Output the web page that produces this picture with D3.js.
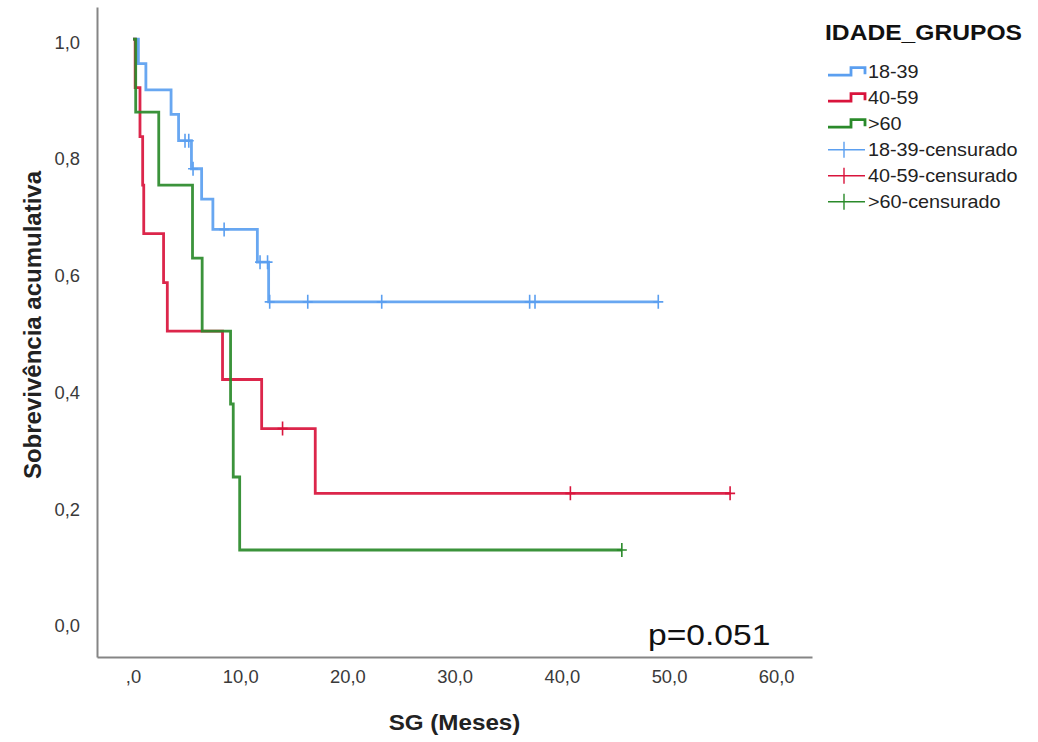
<!DOCTYPE html>
<html>
<head>
<meta charset="utf-8">
<script src="https://cdn.jsdelivr.net/npm/d3@7"></script>
<style>
  body { margin: 0; background: #fff; }
  svg { display: block; font-family: "Liberation Sans", Arial, sans-serif; }
</style>
</head>
<body>
<svg width="1038" height="742"></svg>
<script>
// step data (time in months, cumulative survival)
const groups = ["18-39", "40-59", ">60"];
const colors = ["#5b9ff0", "#d9143c", "#2a8a2a"];

const blueT = [0, 0.5, 1.2, 3.55, 4.25, 5.45, 6.4, 7.45, 11.6, 12.65];
const blueS = [1, 0.958, 0.913, 0.871, 0.826, 0.778, 0.726, 0.674, 0.618, 0.55];
const blueCens = [4.85, 5.2, 5.6, 8.5, 11.85, 12.55, 12.75, 16.3, 23.2, 37.0, 37.5, 49.0];

const redT = [0, 0.2, 0.65, 0.9, 1.0, 2.85, 3.2, 8.35, 12.0, 17.0];
const redS = [1, 0.917, 0.833, 0.75, 0.667, 0.583, 0.5, 0.417, 0.333, 0.222];
const redCens = [13.95, 40.8, 55.7];

const greenT = [0, 0.25, 2.4, 5.55, 6.45, 9.1, 9.35, 9.95];
const greenS = [1, 0.875, 0.75, 0.625, 0.5, 0.375, 0.25, 0.125];
const greenCens = [45.6];

const xTicks = [0, 10, 20, 30, 40, 50, 60];
const yTicks = [0, 0.2, 0.4, 0.6, 0.8, 1.0];
const pText = "p=0.051";

const series = [
  { name: groups[0], t: blueT, s: blueS, cens: blueCens, color: colors[0] },
  { name: groups[1], t: redT, s: redS, cens: redCens, color: colors[1] },
  { name: groups[2], t: greenT, s: greenS, cens: greenCens, color: colors[2] }
];

const svg = d3.select("svg");
const plotLeft = 97, plotRight = 812, plotTop = 7, plotBottom = 657;

const x = d3.scaleLinear().domain([-3.36, 63.34]).range([plotLeft, plotRight]);
const y = d3.scaleLinear().domain([-0.0583, 1.055]).range([plotBottom, plotTop]);

const comma = v => v === 0 ? ",0" : d3.format(".1f")(v).replace(".", ",");

// axes
const xAxis = svg.append("g")
  .attr("transform", `translate(0,${plotBottom})`)
  .call(d3.axisBottom(x).tickValues(xTicks).tickFormat(comma).tickSize(0).tickSizeOuter(0));
xAxis.selectAll("text")
  .attr("y", 0).attr("dy", null)
  .attr("transform", "translate(0,26) scale(1.05,1)")
  .style("font-size", "17.5px").style("fill", "#3a3a3a");

const yAxis = svg.append("g")
  .attr("transform", `translate(${plotLeft},0)`)
  .call(d3.axisLeft(y).tickValues(yTicks).tickFormat(v => d3.format(".1f")(v).replace(".", ",")).tickSize(0).tickSizeOuter(0));
yAxis.selectAll("text")
  .attr("x", 0).attr("dy", null)
  .attr("transform", "translate(-17,9) scale(1.05,1)")
  .style("font-size", "17.5px").style("fill", "#3a3a3a");

svg.selectAll(".domain").attr("stroke", "#858585").attr("stroke-width", 2);

// curves
const lastT = d => Math.max(d.t[d.t.length - 1], d3.max(d.cens));
const stepAt = (d, tt) => d.s[d3.bisectRight(d.t, tt) - 1];

const line = d3.line().x(p => x(p[0])).y(p => y(p[1])).curve(d3.curveStepAfter);

const g = svg.append("g");
series.forEach(d => {
  const pts = d.t.map((tt, i) => [tt, d.s[i]]);
  pts.push([lastT(d), d.s[d.s.length - 1]]);
  g.append("path")
    .attr("d", line(pts))
    .attr("fill", "none")
    .attr("stroke", d.color)
    .attr("stroke-width", 2.8)
    .attr("stroke-opacity", 0.92);

  g.selectAll(null)
    .data(d.cens)
    .enter()
    .append("path")
    .attr("d", c => {
      const cx = x(c), cy = y(stepAt(d, c));
      return `M${cx - 5},${cy}H${cx + 5}M${cx},${cy - 7}V${cy + 7}`;
    })
    .attr("stroke", d.color)
    .attr("stroke-width", 1.6)
    .attr("fill", "none");
});

// p value
svg.append("text")
  .attr("transform", "translate(648,645) scale(1.12,1)")
  .style("font-size", "30px")
  .style("fill", "#111")
  .text(pText);

// axis titles
svg.append("text")
  .attr("transform", `translate(${(plotLeft + plotRight) / 2},730) scale(1.1,1)`)
  .attr("text-anchor", "middle")
  .style("font-size", "22px").style("font-weight", "bold").style("fill", "#222")
  .text("SG (Meses)");

svg.append("text")
  .attr("transform", "translate(41,325) rotate(-90)")
  .attr("text-anchor", "middle")
  .style("font-size", "24px").style("font-weight", "bold").style("fill", "#222")
  .text("Sobrevivência acumulativa");

// legend
const lg = svg.append("g");
lg.append("text")
  .attr("transform", "translate(825,40) scale(1.12,1)")
  .style("font-size", "22px").style("font-weight", "bold").style("fill", "#111")
  .text("IDADE_GRUPOS");

const rowY = i => 71.7 + i * 26;
const items = series.map(d => ({ label: d.name, color: d.color, kind: "step" }))
  .concat(series.map(d => ({ label: d.name + "-censurado", color: d.color, kind: "cens" })));

items.forEach((it, i) => {
  const c = rowY(i);
  if (it.kind === "step") {
    lg.append("path")
      .attr("d", `M828,${c + 3.5}H851V${c - 4}H865V${c + 2.5}`)
      .attr("fill", "none").attr("stroke", it.color).attr("stroke-width", 2.8);
  } else {
    lg.append("path")
      .attr("d", `M828,${c}H865M844,${c - 8}V${c + 8}`)
      .attr("fill", "none").attr("stroke", it.color).attr("stroke-width", 1.4);
  }
  lg.append("text")
    .attr("transform", `translate(868,${c + 6.5}) scale(1.1,1)`)
    .style("font-size", "18px").style("fill", "#222")
    .text(it.label);
});
</script>
</body>
</html>
